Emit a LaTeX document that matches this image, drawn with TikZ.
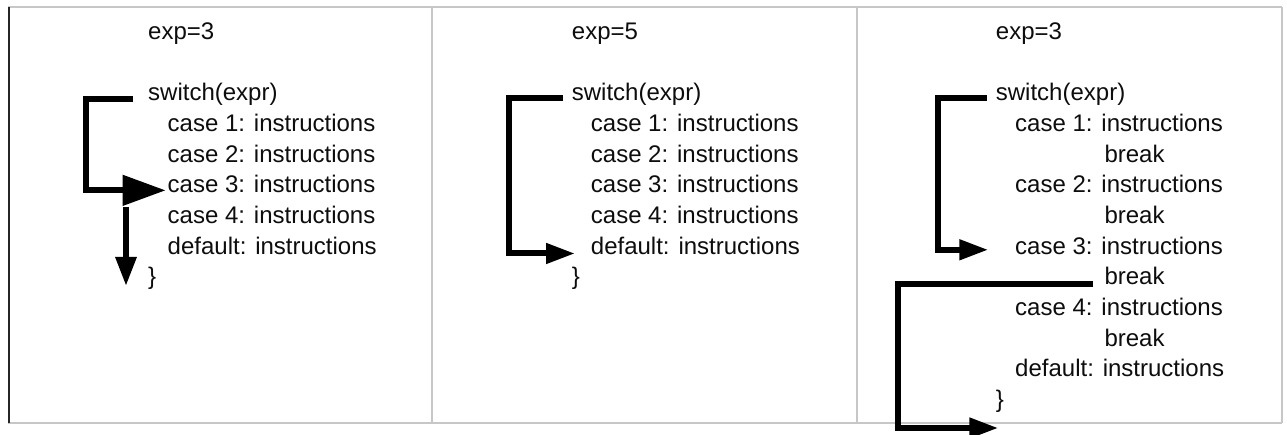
\documentclass[tikz,border=0pt]{standalone}
\usepackage{fontspec}
\setmainfont{Liberation Sans}
\usetikzlibrary{arrows.meta}
\begin{document}
\begin{tikzpicture}[x=1pt,y=-1pt,
  code/.style={anchor=base west, inner sep=0pt, font=\fontsize{24}{28}\selectfont, text=black!95},
  flow/.style={line width=6pt, -{Triangle[length=29pt,width=19.5pt]}},
  bigflow/.style={line width=6pt, -{Triangle[length=43pt,width=29.5pt]}},
  rulegray/.style={draw=black!22, line width=2pt},
  ruledark/.style={draw=black!85, line width=1.6pt}]
\useasboundingbox (0,0) rectangle (1287,435);

% frame and column dividers
\draw[rulegray] (8,7.5) -- (1282,7.5);
\draw[rulegray] (8,422.5) -- (1282,422.5);
\draw[rulegray] (1281.5,7.5) -- (1281.5,422.5);
\draw[rulegray] (432,7.5) -- (432,422.5);
\draw[rulegray] (856.7,7.5) -- (856.7,422.5);
\draw[ruledark] (9,7.5) -- (9,423);

% column 1: exp=3, no break
\node[code] (p1exp) at (148,39.5) {exp=3};
\node[code] (p1sw)  at (148,101) {switch(expr)};
\node[code] (p1c1)  at (167.5,131.67) {case 1: instructions};
\node[code] (p1c2)  at (167.5,162.33) {case 2: instructions};
\node[code] (p1c3)  at (167.5,193) {case 3: instructions};
\node[code] (p1c4)  at (167.5,223.67) {case 4: instructions};
\node[code] (p1def) at (167.5,254.33) {default: instructions};
\node[code] (p1end) at (148,285) {\}};

\draw[bigflow] ([xshift=-14.7pt,yshift=-1pt]p1sw.mid west) -- ++(-47.3,0)
  |- ([xshift=-1.8pt]p1c3.mid west);
\coordinate (p1d0) at (126,207.3);
\coordinate (p1d1) at (126,286);
\draw[line width=6pt, -{Triangle[length=29pt,width=20pt]}] (p1d0) -- (p1d1);

% column 2: exp=5, falls to default
\node[code] (p2exp) at (571.7,39.5) {exp=5};
\node[code] (p2sw)  at (571.7,101) {switch(expr)};
\node[code] (p2c1)  at (590.7,131.67) {case 1: instructions};
\node[code] (p2c2)  at (590.7,162.33) {case 2: instructions};
\node[code] (p2c3)  at (590.7,193) {case 3: instructions};
\node[code] (p2c4)  at (590.7,223.67) {case 4: instructions};
\node[code] (p2def) at (590.7,254.33) {default: instructions};
\node[code] (p2end) at (571.7,285) {\}};

\draw[flow] ([xshift=-8.4pt,yshift=0.3pt]p2sw.mid west) -- ++(-54,0)
  |- ([xshift=-15.7pt,yshift=-1.8pt]p2def.mid west);

% column 3: exp=3, with break
\node[code] (p3exp) at (995.7,39.5) {exp=3};
\node[code] (p3sw)  at (995.7,101) {switch(expr)};
\node[code] (p3c1)  at (1015,131.67) {case 1: instructions};
\node[code] (p3b1)  at (1104.3,162.33) {break};
\node[code] (p3c2)  at (1015,193) {case 2: instructions};
\node[code] (p3b2)  at (1104.3,223.67) {break};
\node[code] (p3c3)  at (1015,254.33) {case 3: instructions};
\node[code] (p3b3)  at (1104.3,285) {break};
\node[code] (p3c4)  at (1015,315.67) {case 4: instructions};
\node[code] (p3b4)  at (1104.3,346.33) {break};
\node[code] (p3def) at (1015,377) {default: instructions};
\node[code] (p3end) at (995.7,407.67) {\}};

\draw[flow] ([xshift=-9pt,yshift=0.3pt]p3sw.mid west) -- ++(-48.4,0)
  |- ([xshift=-26.7pt,yshift=1.9pt]p3c3.mid west);
\coordinate (p3out) at (998.3,428);
\draw[flow] ([xshift=-11pt,yshift=-1.2pt]p3b3.mid west) -- ++(-195,0)
  |- (p3out);
\end{tikzpicture}
\end{document}
